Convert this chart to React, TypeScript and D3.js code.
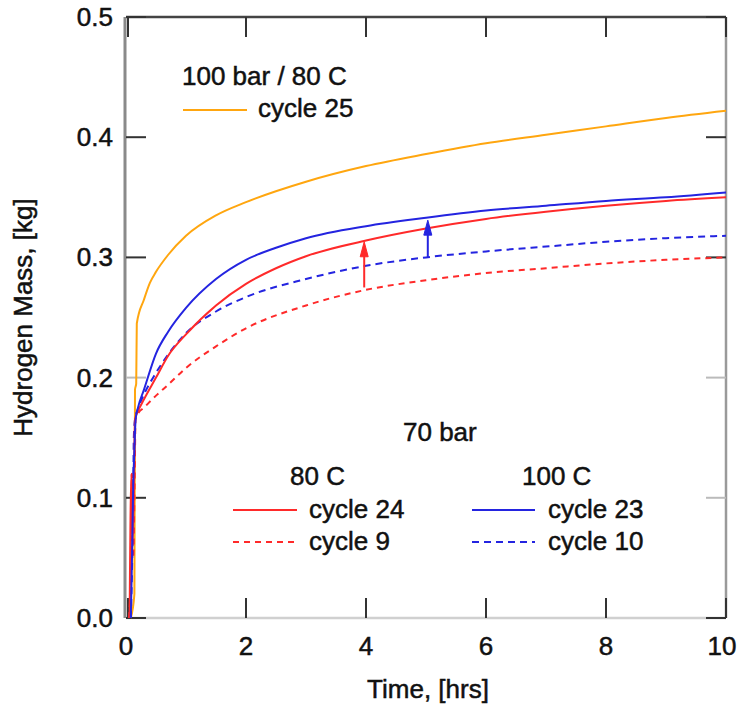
import React from 'react'
import * as d3 from 'd3'

// time in hrs, mass in kg
const c25T = [0.08, 0.14, 0.15, 0.17, 0.18, 0.3, 0.4, 0.5, 0.7, 1.0, 1.5, 2, 3, 4, 5, 6, 7, 8, 9, 10]
const c25M = [0, 0.02, 0.19, 0.195, 0.245, 0.265, 0.279, 0.288, 0.302, 0.318, 0.335, 0.346, 0.363, 0.376, 0.386, 0.395, 0.402, 0.409, 0.416, 0.422]

const c23T = [0.08, 0.1, 0.12, 0.14, 0.16, 0.2, 0.3, 0.5, 0.7, 1.0, 1.5, 2, 2.5, 3, 4, 5, 6, 7, 8, 9, 10]
const c23M = [0, 0.05, 0.11, 0.14, 0.165, 0.175, 0.19, 0.22, 0.238, 0.258, 0.282, 0.298, 0.308, 0.316, 0.326, 0.333, 0.339, 0.343, 0.347, 0.35, 0.354]

const c24T = [0.06, 0.09, 0.11, 0.13, 0.15, 0.2, 0.3, 0.5, 0.7, 1.0, 1.5, 2, 2.5, 3, 4, 5, 6, 7, 8, 9, 10]
const c24M = [0, 0.12, 0.06, 0.1, 0.165, 0.172, 0.182, 0.2, 0.218, 0.236, 0.26, 0.278, 0.291, 0.301, 0.314, 0.324, 0.332, 0.338, 0.343, 0.347, 0.35]

const c10T = [0.08, 0.1, 0.12, 0.13, 0.15, 0.2, 0.3, 0.5, 0.7, 1.0, 1.5, 2, 3, 4, 5, 6, 7, 8, 9, 10]
const c10M = [0, 0.04, 0.1, 0.15, 0.165, 0.174, 0.186, 0.204, 0.219, 0.237, 0.255, 0.267, 0.282, 0.293, 0.3, 0.305, 0.309, 0.313, 0.316, 0.318]

const c9T = [0.05, 0.08, 0.1, 0.12, 0.14, 0.16, 0.2, 0.3, 0.5, 0.7, 1.0, 1.5, 2, 3, 4, 5, 6, 7, 8, 9, 10]
const c9M = [0, 0.04, 0.12, 0.05, 0.1, 0.165, 0.17, 0.175, 0.185, 0.194, 0.208, 0.226, 0.241, 0.26, 0.273, 0.281, 0.287, 0.291, 0.295, 0.298, 0.3]

// arrows: time, from, to
const arrowT = [3.97, 5.03]
const arrowFrom = [0.275, 0.3]
const arrowTo = [0.313, 0.331]
const arrowColor = ['#ff2a2a', '#2424e0']

const xTicks = [0, 2, 4, 6, 8, 10]
const yTicks = [0, 0.1, 0.2, 0.3, 0.4, 0.5]

const W = 742, H = 706
const left = 126, right = 726, top = 17, bottom = 618
const font = 'Liberation Sans, Arial, sans-serif'
const fs = 26

const x = d3.scaleLinear().domain([0, 10]).range([left, right])
const y = d3.scaleLinear().domain([0, 0.5]).range([bottom, top])

const zip = (t: number[], m: number[]) => t.map((d, i) => [d, m[i]] as [number, number])
const line = d3.line<[number, number]>()
    .x(d => x(d[0]))
    .y(d => y(d[1]))
    .curve(d3.curveMonotoneX)

const series = [
    { name: 'cycle 25', data: zip(c25T, c25M), color: '#ffa60f', dash: null },
    { name: 'cycle 9', data: zip(c9T, c9M), color: '#ff2a2a', dash: '6,5' },
    { name: 'cycle 10', data: zip(c10T, c10M), color: '#2424e0', dash: '7,5' },
    { name: 'cycle 24', data: zip(c24T, c24M), color: '#ff2a2a', dash: null },
    { name: 'cycle 23', data: zip(c23T, c23M), color: '#2424e0', dash: null },
]

export default function App() {
    const tl = 20
    return (
        <svg width={W} height={H} style={{ position: 'absolute', left: 0, top: 0, background: '#fff' }}
             fontFamily={font} fontSize={fs}>
            {/* frame */}
            <line x1={left} x2={right} y1={bottom} y2={bottom} stroke="#d0d0d0" strokeWidth={2.5} />
            <line x1={right} x2={right} y1={top} y2={bottom} stroke="#9a9a9a" strokeWidth={2.5} />
            <line x1={left} x2={right} y1={top} y2={top} stroke="#444" strokeWidth={2.5} />
            <line x1={left - 1} x2={left - 1} y1={top} y2={bottom} stroke="#8a8a8a" strokeWidth={3} />

            {/* ticks */}
            <g fill="#111" stroke="#111" strokeWidth={0.5}>
            {xTicks.map(t => (
                <g key={'xt' + t}>
                    <line x1={x(t) + (t === 0 ? 2 : 0)} x2={x(t) + (t === 0 ? 2 : 0)} y1={bottom} y2={bottom - tl} stroke="#333" strokeWidth={2} />
                    <line x1={x(t) + (t === 0 ? 2 : 0)} x2={x(t) + (t === 0 ? 2 : 0)} y1={top} y2={top + tl} stroke="#333" strokeWidth={2} />
                    <text x={x(t) + (t === 10 ? -4 : 0)} y={bottom + 37} textAnchor="middle">{t}</text>
                </g>
            ))}
            {yTicks.map(v => (
                <g key={'yt' + v}>
                    <line x1={left} x2={left + tl} y1={y(v)} y2={y(v)} stroke={v === 0.2 ? '#bbb' : '#333'} strokeWidth={2} />
                    <line x1={right - tl} x2={right} y1={y(v)} y2={y(v)} stroke={v === 0.2 || v === 0.1 ? '#bbb' : '#333'} strokeWidth={2} />
                    <text x={113} y={y(v) + 9} textAnchor="end">{v.toFixed(1)}</text>
                </g>
            ))}
            </g>

            {/* curves */}
            {series.map(s => (
                <path key={s.name} d={line(s.data) || ''} fill="none" stroke={s.color}
                      strokeWidth={2} strokeDasharray={s.dash || undefined} />
            ))}

            {/* arrows */}
            {arrowT.map((t, i) => (
                <g key={'ar' + i} fill={arrowColor[i]} stroke={arrowColor[i]}>
                    <line x1={x(t)} x2={x(t)} y1={y(arrowFrom[i])} y2={y(arrowTo[i]) + 10} strokeWidth={2} />
                    <path d={`M${x(t)},${y(arrowTo[i])} L${x(t) - 4},${y(arrowTo[i]) + 15} L${x(t) + 4},${y(arrowTo[i]) + 15} Z`} strokeWidth={1} />
                </g>
            ))}

            <g fill="#111" stroke="#111" strokeWidth={0.5}>
                {/* axis titles */}
                <text x={(left + right) / 2 + 2} y={698} textAnchor="middle">Time, [hrs]</text>
                <text transform={`translate(32,${(top + bottom) / 2}) rotate(-90)`} textAnchor="middle">Hydrogen Mass, [kg]</text>

                {/* legend, 100 bar */}
                <text x={182} y={85}>100 bar / 80 C</text>
                <text x={258} y={117}>cycle 25</text>

                {/* legend, 70 bar */}
                <text x={403} y={441}>70 bar</text>
                <text x={290} y={485}>80 C</text>
                <text x={522} y={485}>100 C</text>
                <text x={309} y={518}>cycle 24</text>
                <text x={309} y={550}>cycle 9</text>
                <text x={548} y={518}>cycle 23</text>
                <text x={548} y={550}>cycle 10</text>
            </g>
            <line x1={183} x2={247} y1={110} y2={110} stroke="#ffa60f" strokeWidth={2} />
            <line x1={233} x2={297} y1={510} y2={510} stroke="#ff2a2a" strokeWidth={2} />
            <line x1={233} x2={297} y1={542} y2={542} stroke="#ff2a2a" strokeWidth={2} strokeDasharray="6,5" />
            <line x1={472} x2={535} y1={510} y2={510} stroke="#2424e0" strokeWidth={2} />
            <line x1={472} x2={535} y1={542} y2={542} stroke="#2424e0" strokeWidth={2} strokeDasharray="7,5" />
        </svg>
    )
}
